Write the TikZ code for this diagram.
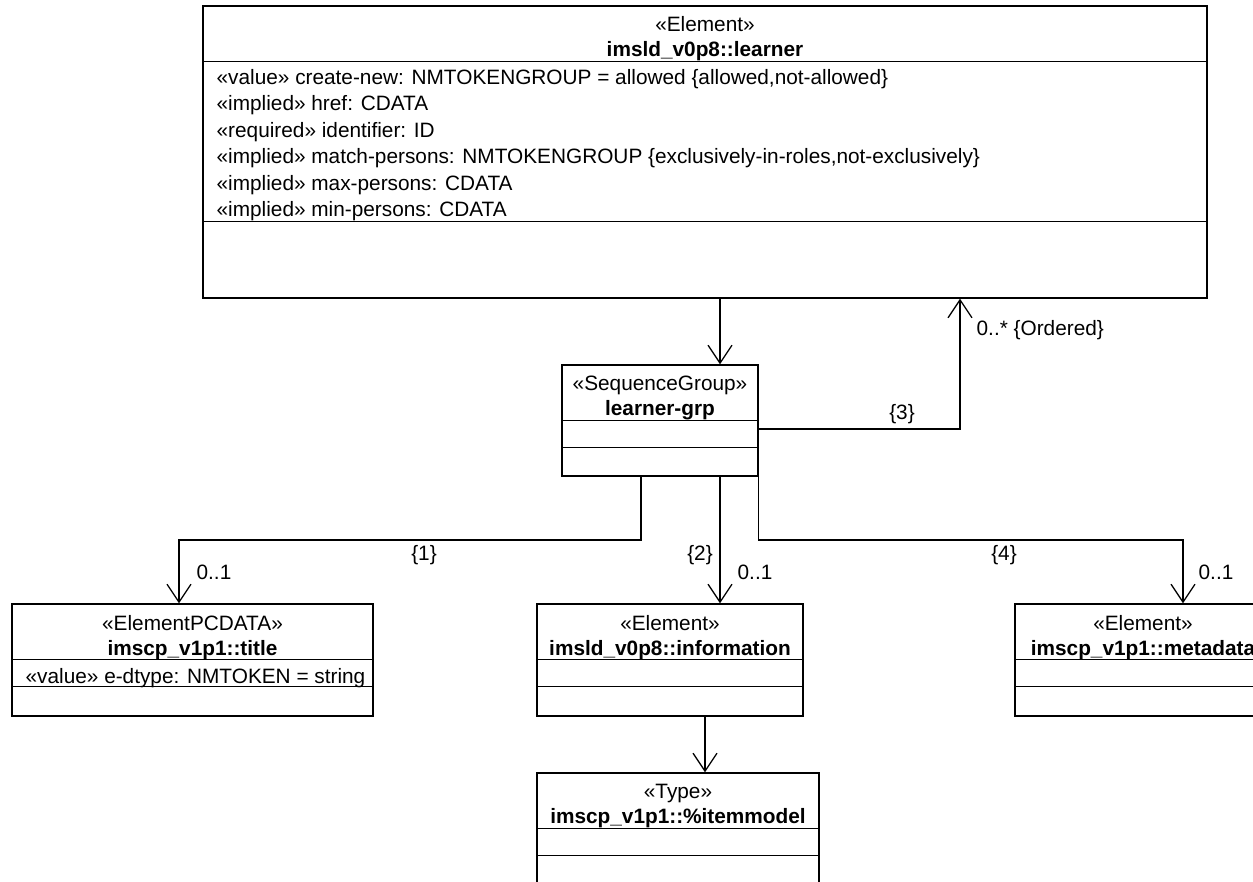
\documentclass[tikz,border=0pt]{standalone}
\usepackage{fontspec}
\setmainfont{Liberation Sans}
\usetikzlibrary{arrows.meta}

\begin{document}
\begin{tikzpicture}[x=1pt,y=-1pt,line width=1.3pt,
    umlbox/.style={draw,rectangle,inner sep=0pt,minimum height=112pt},
    assoc/.style={-{Straight Barb[length=18pt,width=24pt]}},
    lbl/.style={inner sep=0pt,anchor=base,font=\fontsize{20.8}{26}\selectfont},
    bname/.style={lbl,font=\fontsize{20.8}{26}\selectfont\bfseries},
    attr/.style={lbl,anchor=base west}]
  \clip (0,0) rectangle (1253,882);
  % class boxes
  \node[umlbox,minimum width=1004pt,minimum height=292pt] (learner) at (705,152) {};
  \node[umlbox,minimum width=196pt,minimum height=111pt] (grp) at (660,420.5) {};
  \node[umlbox,minimum width=361pt] (title) at (192.5,660) {};
  \node[umlbox,minimum width=266pt] (info) at (670,660) {};
  \node[umlbox,minimum width=256pt] (meta) at (1143,660) {};
  \node[umlbox,minimum width=282pt] (item) at (678,829) {};
  % compartments
  \draw ([yshift=-56pt]learner.north west) -- ([yshift=-56pt]learner.north east);
  \draw ([yshift=-216pt]learner.north west) -- ([yshift=-216pt]learner.north east);
  \foreach \b in {grp,title,info,meta,item}{
    \draw ([yshift=-56pt]\b.north west) -- ([yshift=-56pt]\b.north east);
    \draw ([yshift=-83pt]\b.north west) -- ([yshift=-83pt]\b.north east);
  }
  % texts
  \node[lbl] (learnerst) at (705,32) {«Element»};
  \node[bname] (learnernm) at (705,57) {imsld\_v0p8::learner};
  \node[attr] (a1) at (216,84.5) {«value» create-new: NMTOKENGROUP = allowed \{allowed,not-allowed\}};
  \node[attr] (a2) at (216,111) {«implied» href: CDATA};
  \node[attr] (a3) at (216,137.5) {«required» identifier: ID};
  \node[attr] (a4) at (216,164) {«implied» match-persons: NMTOKENGROUP \{exclusively-in-roles,not-exclusively\}};
  \node[attr] (a5) at (216,190.5) {«implied» max-persons: CDATA};
  \node[attr] (a6) at (216,217) {«implied» min-persons: CDATA};
  \node[lbl] (grpst) at (660,391) {«SequenceGroup»};
  \node[bname] (grpnm) at (660,416) {learner-grp};
  \node[lbl] (titlest) at (192.5,630) {«ElementPCDATA»};
  \node[bname] (titlenm) at (192.5,655.5) {imscp\_v1p1::title};
  \node[attr] (t1) at (25,683) {«value» e-dtype: NMTOKEN = string};
  \node[lbl] (infost) at (670,630) {«Element»};
  \node[bname] (infonm) at (670,655.5) {imsld\_v0p8::information};
  \node[lbl] (metast) at (1143,630) {«Element»};
  \node[bname] (metanm) at (1143,655.5) {imscp\_v1p1::metadata};
  \node[lbl] (itemst) at (678,798) {«Type»};
  \node[bname] (itemnm) at (678,823.5) {imscp\_v1p1::\%itemmodel};
  % associations
  \draw[assoc] (learner.south -| 720,0) -- (grp.north -| 720,0);
  \draw[assoc] (grp.east |- 0,429) -| (learner.south -| 960,0);
  \draw[assoc] (grp.south -| 641,0) |- (179,540) -- (title.north -| 179,0);
  \draw[assoc] (grp.south -| 720,0) -- (info.north -| 720,0);
  \draw[assoc] (grp.south east) |- (1183,540) -- (meta.north -| 1183,0);
  \draw[assoc] (info.south -| 705,0) -- (item.north -| 705,0);
  % role labels
  \node[lbl] (o3) at (902,420) {\{3\}};
  \node[attr] (m3) at (976,336) {0..* \{Ordered\}};
  \node[lbl] (o1) at (424,560) {\{1\}};
  \node[attr] (m1) at (196,579) {0..1};
  \node[lbl] (o2) at (700,560) {\{2\}};
  \node[attr] (m2) at (737,579) {0..1};
  \node[lbl] (o4) at (1004,560) {\{4\}};
  \node[attr] (m4) at (1198,579) {0..1};
\end{tikzpicture}
\end{document}
